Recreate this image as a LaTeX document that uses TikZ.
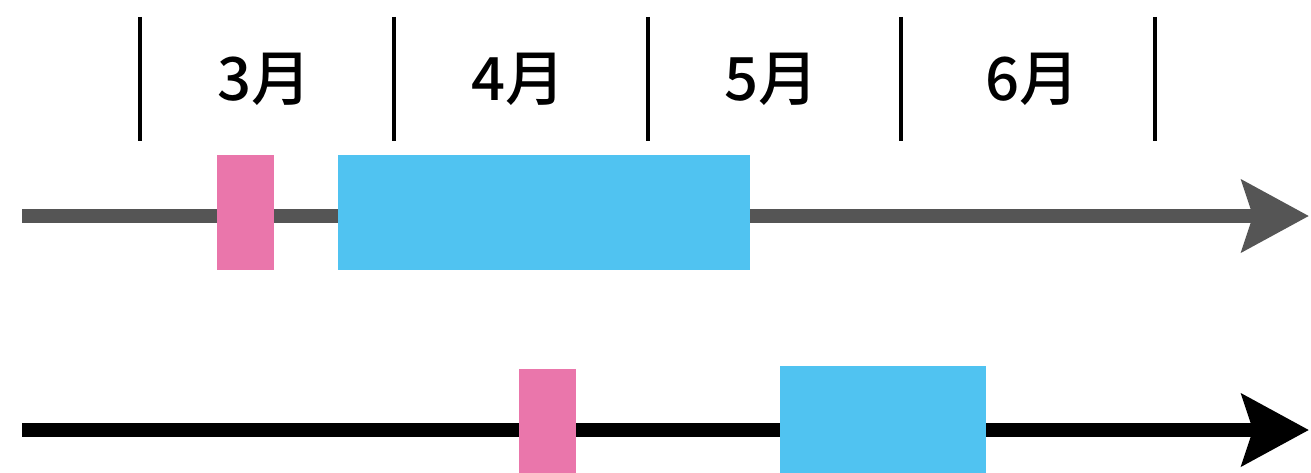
\documentclass[tikz,border=0pt]{standalone}
\usepackage{fontspec}
\newfontfamily\cjk{Noto Sans CJK JP}[UprightFont = * Medium]
\usetikzlibrary{arrows.meta}
\definecolor{springpink}{HTML}{EA76AB}
\definecolor{skyblue}{HTML}{50C3F1}
\definecolor{axisgray}{HTML}{555555}
\tikzset{
month/.style = {font = \cjk\fontsize{34}{34}\selectfont, inner sep = 0pt},
tick/.style = {line width = 2pt, black},
timeline/.style = {line width = 0.28cm,
   -{Stealth[length = 1.34cm, width = 1.42cm, inset = 0.22cm]}},
short/.style = {rectangle, fill = springpink, inner sep = 0pt, minimum width = 1.14cm},
long/.style = {rectangle, fill = skyblue, inner sep = 0pt}
}

\begin{document}
\begin{tikzpicture}[x = 0.02cm, y = -0.02cm]
\useasboundingbox (0,0) rectangle (1311,473);

%% Month ticks and labels
\foreach \x in {140, 394, 648, 901, 1155}
   \draw [tick] (\x,17) -- (\x,141);
\node [month] (m3) at (264,79) {3月};
\node [month] (m4) at (518,79) {4月};
\node [month] (m5) at (771,79) {5月};
\node [month] (m6) at (1032,79) {6月};

%% Upper timeline
\coordinate (s1) at (22,216);
\coordinate (t1) at (1309,216);
\draw [timeline, axisgray] (s1) -- (t1);
\node [short, minimum height = 2.3cm] (p1) at (245.5,212.5) {};
\node [long, minimum width = 8.24cm, minimum height = 2.3cm] (b1) at (544,212.5) {};

%% Lower timeline
\coordinate (s2) at (22,430);
\coordinate (t2) at (1309,430);
\draw [timeline, black] (s2) -- (t2);
\node [short, minimum height = 2.08cm] (p2) at (547.5,421) {};
\node [long, minimum width = 4.12cm, minimum height = 2.14cm] (b2) at (883,419.5) {};

\end{tikzpicture}
\end{document}
